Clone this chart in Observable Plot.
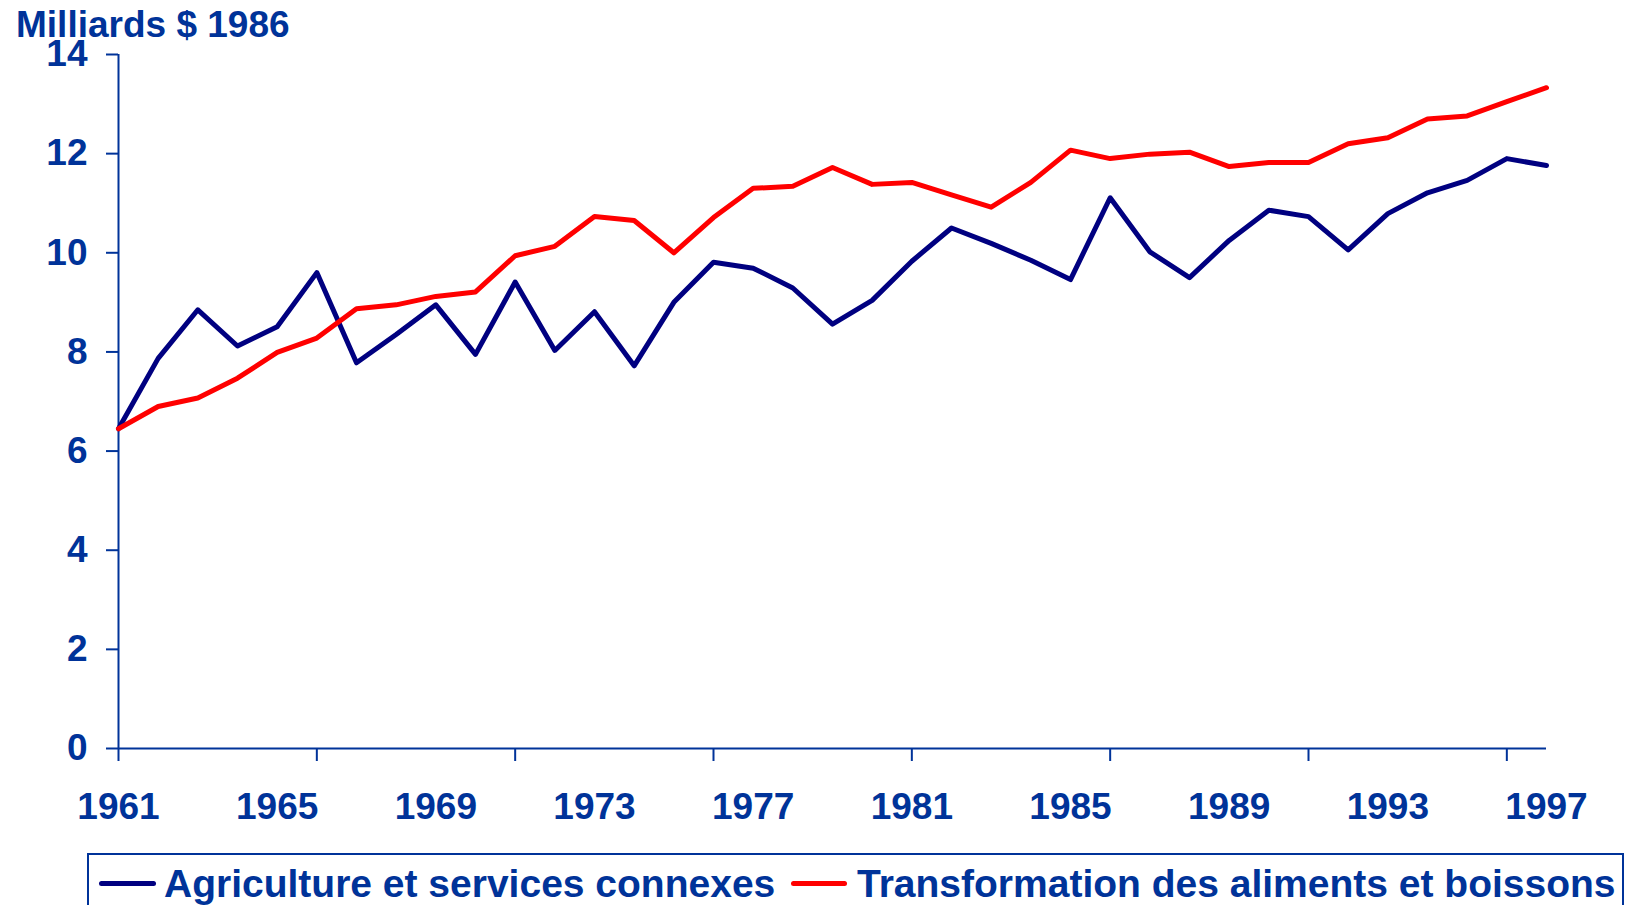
<!DOCTYPE html>
<html><head><meta charset="utf-8">
<script src="https://cdn.jsdelivr.net/npm/d3@7"></script>
<script src="https://cdn.jsdelivr.net/npm/@observablehq/plot@0.6"></script>
<style>
body{margin:0;background:#fff;font-family:"Liberation Sans",Arial,sans-serif;}
#wrap{position:relative;width:1627px;height:905px;overflow:hidden;background:#fff;}
#title{position:absolute;left:16px;top:6px;font-weight:bold;font-size:37px;line-height:1;color:#003399;white-space:nowrap;z-index:2;}
#chart{position:absolute;left:0;top:0;}
#legend{position:absolute;left:87px;top:853px;width:1537px;height:80px;border:2px solid #003399;box-sizing:border-box;}
.sw{position:absolute;height:5px;border-radius:3px;}
.lt{position:absolute;font-weight:bold;font-size:39px;line-height:1;color:#003399;white-space:nowrap;}
</style></head>
<body>
<div id="wrap">
  <div id="chart"></div>
  <div id="title">Milliards $ 1986</div>
  <div id="legend"></div>
  <div class="sw" id="sw1" style="left:99px;top:881px;width:57px;"></div>
  <div class="lt" id="lt1" style="left:164px;top:864px;"></div>
  <div class="sw" id="sw2" style="left:791px;top:881px;width:56px;"></div>
  <div class="lt" id="lt2" style="left:857px;top:864px;"></div>
</div>
<script>
const years = [1961,1962,1963,1964,1965,1966,1967,1968,1969,1970,1971,1972,1973,1974,1975,1976,1977,1978,1979,1980,1981,1982,1983,1984,1985,1986,1987,1988,1989,1990,1991,1992,1993,1994,1995,1996,1997];
const agriculture = [6.45,7.87,8.85,8.12,8.51,9.60,7.78,8.35,8.95,7.95,9.41,8.03,8.81,7.72,9.00,9.81,9.69,9.29,8.56,9.04,9.83,10.50,10.19,9.85,9.46,11.11,10.02,9.50,10.25,10.86,10.73,10.06,10.79,11.21,11.46,11.90,11.76];
const transformation = [6.45,6.90,7.07,7.47,7.99,8.28,8.87,8.95,9.12,9.21,9.94,10.13,10.73,10.65,10.00,10.71,11.30,11.34,11.72,11.38,11.42,11.17,10.92,11.42,12.07,11.90,11.99,12.03,11.74,11.82,11.82,12.20,12.32,12.70,12.76,13.05,13.33];
const seriesNames = ["Agriculture et services connexes","Transformation des aliments et boissons"];
const seriesColors = ["#000080","#ff0000"];
const yTicks = [0,2,4,6,8,10,12,14];
const xLabelYears = [1961,1965,1969,1973,1977,1981,1985,1989,1993,1997];
const xTickYears = [1961,1966,1971,1976,1981,1986,1991,1996];
const titleText = "Milliards $ 1986";

const rowsA = years.map((y,i)=>({year:y, value:agriculture[i]}));
const rowsT = years.map((y,i)=>({year:y, value:transformation[i]}));
const axisColor = "#003399";

const chart = Plot.plot({
  width: 1627, height: 845,
  marginLeft: 118, marginRight: 81, marginTop: 54, marginBottom: 97,
  x: {domain: [1961,1997]},
  y: {domain: [0,14]},
  style: {fontFamily: '"Liberation Sans", Arial, sans-serif', fontWeight: "bold", fontSize: "37px", color: axisColor, background: "transparent", overflow: "visible"},
  marks: [
    Plot.axisY({ticks: yTicks, tickSize: 12, tickPadding: 19, tickFormat: d => String(d), label: null, stroke: axisColor, fill: axisColor, strokeWidth: 2}),
    Plot.axisX({ticks: xTickYears, tickSize: 13, tickFormat: () => "", label: null, stroke: axisColor, strokeWidth: 2}),
    Plot.axisX({ticks: xLabelYears, tickSize: 0, tickPadding: 44, tickFormat: d => String(d), label: null, fill: axisColor}),
    Plot.ruleY([0], {stroke: axisColor, strokeWidth: 2}),
    Plot.ruleX([1961], {y1: 0, y2: 14, stroke: axisColor, strokeWidth: 2}),
    Plot.line(rowsA, {x: "year", y: "value", stroke: seriesColors[0], strokeWidth: 5}),
    Plot.line(rowsT, {x: "year", y: "value", stroke: seriesColors[1], strokeWidth: 5})
  ]
});
document.getElementById("chart").appendChild(chart);
document.getElementById("title").textContent = titleText;
document.getElementById("lt1").textContent = seriesNames[0];
document.getElementById("lt2").textContent = seriesNames[1];
document.getElementById("sw1").style.background = seriesColors[0];
document.getElementById("sw2").style.background = seriesColors[1];
</script>
</body></html>
